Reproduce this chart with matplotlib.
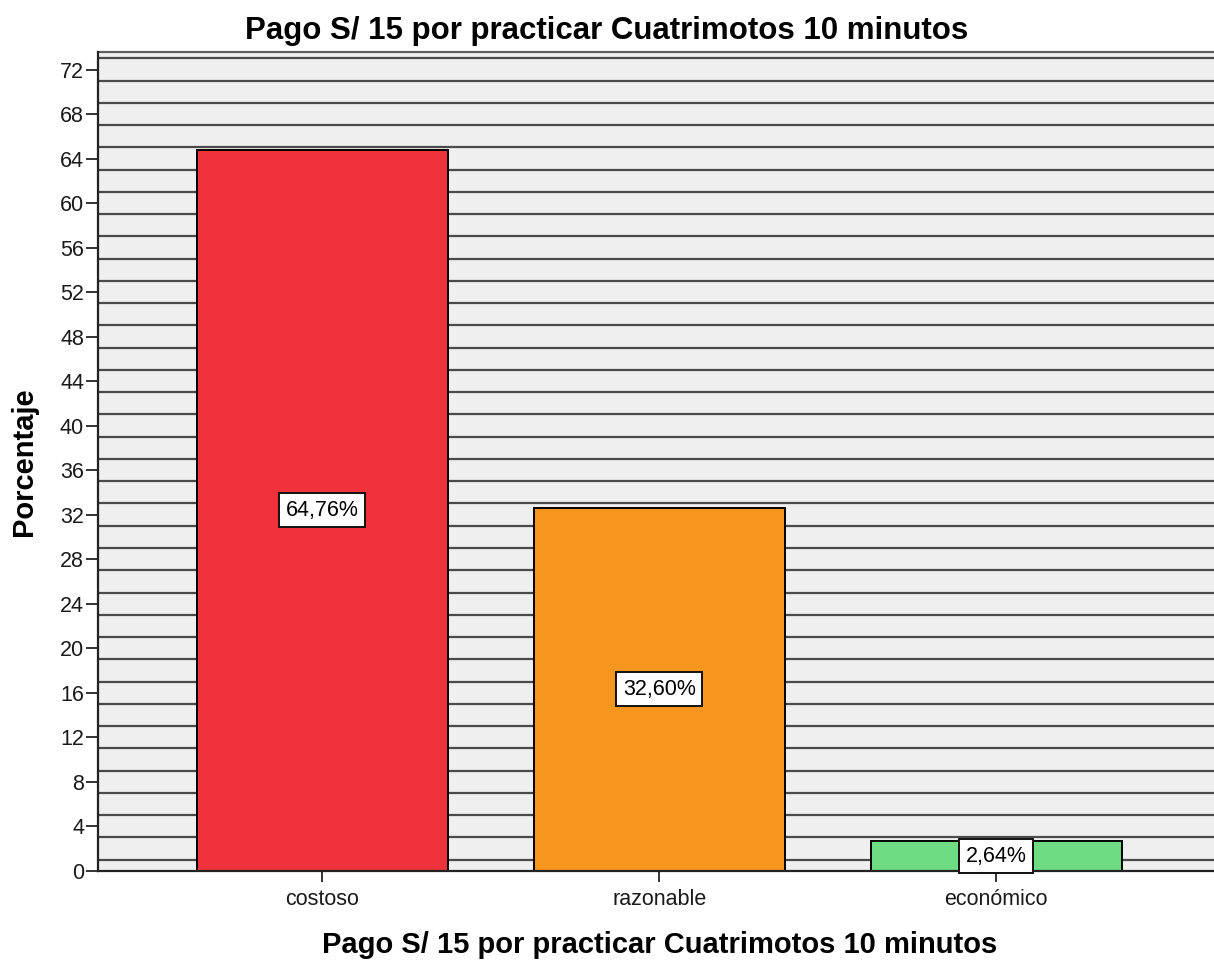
import numpy as np
import matplotlib
matplotlib.use("Agg")
import matplotlib.pyplot as plt

plt.rcParams.update({
    "font.family": ["Liberation Sans", "DejaVu Sans"],
})

# Survey answers: share of respondents (%)
categories = ["costoso", "razonable", "económico"]
percentages = [64.76, 32.60, 2.64]
bar_colors = ["#F0323A", "#F7961E", "#6EDC82"]
y_ticks = list(range(0, 73, 4))
hatch_levels = list(range(1, 74, 2))

title = "Pago S/ 15 por practicar Cuatrimotos 10 minutos"

W, H = 1214, 960
fig = plt.figure(figsize=(W / 100, H / 100), dpi=100)

# plot box in pixel terms: left 98, top 52, bottom 871, runs past right edge
left, top, bottom, right = 98, 51.7, 870.7, 1220.5
ax = fig.add_axes([left / W, 1 - bottom / H, (right - left) / W, (bottom - top) / H])
ax.set_facecolor("#EFEFEF")

# SPSS-style horizontal line fill behind the bars
for lv in hatch_levels:
    ax.axhline(lv, color="#4A4A4A", linewidth=1.6, zorder=1)

x = np.arange(len(categories))
ax.bar(x, percentages, width=0.745, color=bar_colors,
       edgecolor="black", linewidth=1.4, zorder=3)

for xi, v in zip(x, percentages):
    label = f"{v:.2f}%".replace(".", ",")
    ax.text(xi, v / 2, label, ha="center", va="center", fontsize=15.5,
            color="black", zorder=5, clip_on=False,
            bbox=dict(boxstyle="square,pad=0.3", facecolor="white",
                      edgecolor="#111111", linewidth=1.4))

ax.set_xlim(-0.666, 2.666)
ax.set_ylim(0, 73.6)
ax.set_yticks(y_ticks)
ax.set_xticks(x)
ax.set_xticklabels(categories)

ax.tick_params(axis="y", length=8.5, width=1.4, pad=1.5, labelsize=15.5,
               color="#333333", labelcolor="#1A1A1A")
ax.tick_params(axis="x", length=8, width=1.4, pad=5, labelsize=15.5,
               color="#333333", labelcolor="#1A1A1A")

for side in ("left", "bottom"):
    ax.spines[side].set_color("#222222")
    ax.spines[side].set_linewidth(1.6)
    ax.spines[side].set_zorder(4)
ax.spines["top"].set_color("#606060")
ax.spines["top"].set_linewidth(1.6)
ax.spines["right"].set_visible(False)

fig.text(0.5, 1 - 39.5 / H, title, ha="center", va="baseline",
         fontsize=22.5, fontweight="bold")
fig.text(659.5 / W, 1 - 953 / H, title, ha="center", va="baseline",
         fontsize=21, fontweight="bold")
fig.text(24 / W, 1 - 462 / H, "Porcentaje", rotation=90, ha="center",
         va="center", fontsize=21, fontweight="bold")

fig.savefig("out.png", dpi=100)
